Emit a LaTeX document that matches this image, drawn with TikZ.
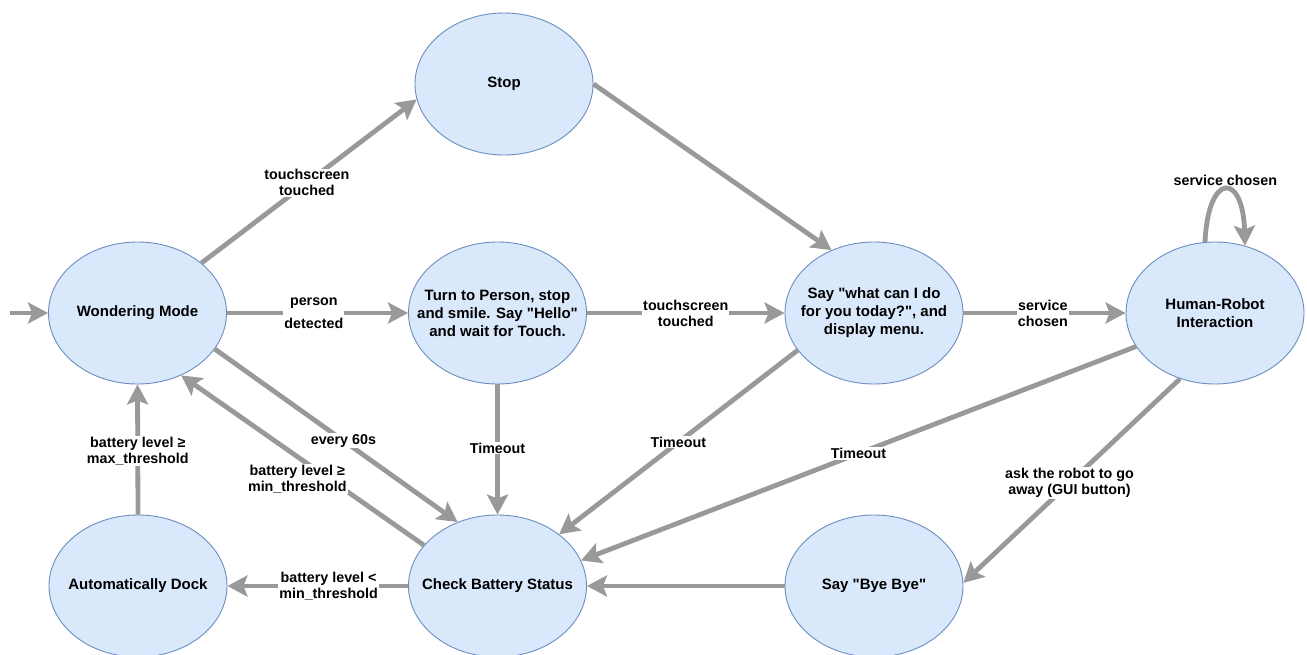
\documentclass[tikz,border=0pt]{standalone}
\usepackage{fontspec}
\setmainfont{Liberation Sans}
\usetikzlibrary{arrows.meta,shapes.geometric}
\definecolor{edgegray}{HTML}{999999}
\definecolor{statefill}{HTML}{DAE8FC}
\definecolor{statedraw}{HTML}{6C8EBF}
\newcommand{\qt}{\textquotedbl}
\tikzset{
  state/.style={ellipse, draw=statedraw, fill=statefill, line width=0.9pt,
    minimum width=178pt, minimum height=142pt, inner sep=-25pt, align=center,
    font=\fontsize{15}{18}\selectfont\bfseries},
  trans/.style={draw=edgegray, line width=4.8pt,
    -{Stealth[length=20pt,width=21pt,inset=4pt]}},
  lbl/.style={fill=white, inner sep=1pt, align=center, text=black,
    font=\fontsize{14.3}{16}\selectfont\bfseries},
}
\begin{document}
\begin{tikzpicture}[x=1pt,y=-1pt]
\useasboundingbox (0,0) rectangle (1307,655);
\fill[white] (0,0) rectangle (1307,655);
% states
\node[state] (S) at (504,84) {Stop};
\node[state] (W) at (137.5,313) {Wondering Mode};
\node[state] (T) at (497.5,313) {Turn to Person, stop\\and smile. Say \qt Hello\qt\\and wait for Touch.};
\node[state] (Y) at (874,313) {Say \qt what can I do\\for you today?\qt, and\\display menu.};
\node[state] (H) at (1215,313) {Human-Robot\\Interaction};
\node[state] (D) at (138,586) {Automatically Dock};
\node[state] (C) at (497.5,586) {Check Battery Status};
\node[state] (B) at (874,586) {Say \qt Bye Bye\qt};
\coordinate (init) at (10,313);
% transitions
\draw[trans] (init) -- (W.west);
\draw[trans] (W.38) -- node[lbl,pos=0.49]{touchscreen\\touched} (S.190);
\draw[trans] (W.east) -- node[lbl,pos=0.48]{person\\[7pt]detected} (T.west);
\draw[trans] (T.east) -- node[lbl,pos=0.5]{touchscreen\\touched} (Y.west);
\draw[trans] (S.east) -- (Y.124);
\draw[trans] (Y.east) -- node[lbl,pos=0.49]{service\\chosen} (H.west);
\draw[trans] (H.98) .. controls +(3,-70) and +(-2,-74) .. node[pos=0.5,above,inner sep=2pt,font=\fontsize{14.3}{16}\selectfont\bfseries]{service chosen} (H.66);
\draw[trans] (W.-25) -- node[lbl,pos=0.53]{every 60s} (C.122);
\draw[trans] (C.151) -- node[lbl,pos=0.39,xshift=-32pt]{battery level ≥\\min\_threshold} (W.-55);
\draw[trans] (T.south) -- node[lbl,pos=0.49]{Timeout} (C.north);
\draw[trans] (Y.206) -- node[lbl,pos=0.5]{Timeout} (C.40);
\draw[trans] (H.203) -- node[lbl,pos=0.5]{Timeout} (C.17);
\draw[trans] (H.242) -- node[lbl,pos=0.51]{ask the robot to go\\away (GUI button)} (B.2);
\draw[trans] (B.west) -- (C.east);
\draw[trans] (C.west) -- node[lbl,pos=0.44]{battery level <\\min\_threshold} (D.east);
\draw[trans] (D.north) -- node[lbl,pos=0.49]{battery level ≥\\max\_threshold} (W.south);
\end{tikzpicture}
\end{document}
